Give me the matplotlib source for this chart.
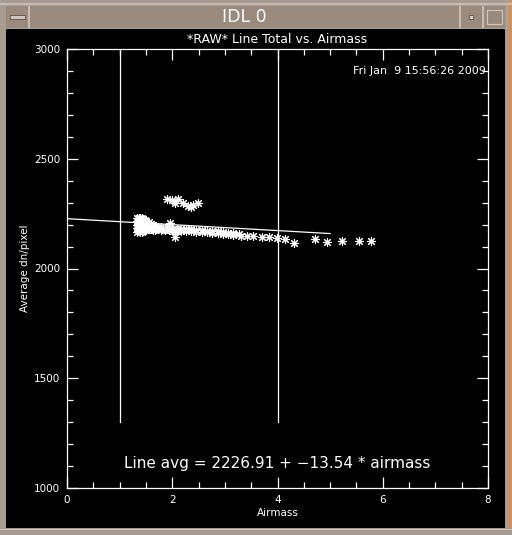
import matplotlib
matplotlib.use("Agg")
import matplotlib.pyplot as plt
from matplotlib.patches import Rectangle
import numpy as np

# ---------------- data ----------------
airmass = [1.33, 1.33, 1.33, 1.33, 1.33,
           1.36, 1.36, 1.36, 1.36, 1.36,
           1.39, 1.39, 1.39, 1.39, 1.39,
           1.42, 1.42, 1.42, 1.42, 1.42,
           1.45, 1.45, 1.45, 1.45,
           1.48, 1.48, 1.48, 1.48,
           1.51, 1.51, 1.51, 1.51,
           1.55, 1.55, 1.55,
           1.59, 1.59, 1.59,
           1.63, 1.63, 1.63,
           1.68, 1.68, 1.68,
           1.73, 1.73,
           1.79, 1.79,
           1.86, 1.86,
           1.93, 1.93,
           2.01, 2.01,
           2.09, 2.09,
           2.17, 2.17,
           2.26, 2.26,
           2.36, 2.36,
           2.46, 2.46,
           2.56, 2.56,
           2.66, 2.66,
           2.76, 2.76,
           2.86, 2.86,
           2.96, 2.96,
           3.06, 3.06,
           3.16, 3.16,
           3.26, 3.30, 3.42, 3.54, 3.70, 3.83,
           3.99, 4.15, 4.32, 4.72, 4.95, 5.23, 5.54, 5.77,
           1.96, 2.05,
           1.90, 2.00, 2.10, 2.05, 2.20, 2.30, 2.40, 2.48, 2.35]
line_total = [2230, 2215, 2200, 2185, 2168,
              2232, 2217, 2202, 2187, 2170,
              2230, 2214, 2199, 2184, 2168,
              2228, 2212, 2197, 2182, 2167,
              2224, 2208, 2193, 2178,
              2220, 2205, 2190, 2175,
              2216, 2202, 2188, 2174,
              2210, 2196, 2182,
              2204, 2191, 2178,
              2198, 2187, 2176,
              2194, 2184, 2175,
              2190, 2179,
              2188, 2177,
              2186, 2175,
              2184, 2174,
              2182, 2173,
              2181, 2172,
              2180, 2171,
              2179, 2170,
              2178, 2169,
              2177, 2168,
              2175, 2166,
              2173, 2165,
              2171, 2163,
              2169, 2162,
              2166, 2159,
              2163, 2156,
              2160, 2153,
              2155, 2150, 2147, 2146, 2145, 2144,
              2139, 2135, 2117, 2135, 2123, 2127, 2127, 2127,
              2206, 2142,
              2315, 2312, 2318, 2298, 2300, 2285, 2290, 2298, 2278]

fit_intercept = 2226.91
fit_slope = -13.54
fit_range = [0, 5]
vline_x = [1, 4]
vline_range = [1300, 3000]

xticks = [0, 2, 4, 6, 8]
yticks = [1000, 1500, 2000, 2500, 3000]

title = "*RAW* Line Total vs. Airmass"
date_text = "Fri Jan  9 15:56:26 2009"
fit_text = "Line avg = 2226.91 + \u221213.54 * airmass"

# ---------------- figure / window frame ----------------
W, H = 512, 535
fig = plt.figure(figsize=(W / 100, H / 100), dpi=100)
fig.patch.set_facecolor("#a79a91")

def rect(x0, y0, x1, y1, fc, ec="none", lw=0, z=-10):
    # pixel coords, y from top
    r = Rectangle((x0 / W, 1 - y1 / H), (x1 - x0) / W, (y1 - y0) / H,
                  transform=fig.transFigure, facecolor=fc, edgecolor=ec,
                  linewidth=lw, zorder=z)
    fig.patches.append(r)

rect(0, 0, 512, 535, "#a89b92")
rect(506, 0, 512, 535, "#b39d8f")
rect(509, 0, 511, 535, "#e8873a")
rect(6, 6, 505, 28, "#9a8a7e")
# separators in title bar
rect(28, 6, 30, 28, "#c8bcb4")
rect(459, 6, 461, 28, "#c8bcb4")
rect(482, 6, 484, 28, "#c8bcb4")
rect(0, 3, 512, 5, "#c8bcb4")
# left button bar
rect(10, 15, 25, 19, "#d0c6c0", ec="#5a4e46", lw=0.6)
# small square button
rect(469, 15, 473, 19, "#d8d0ca", ec="#4a3e36", lw=0.5)
# maximize square
rect(487, 10, 502, 24, "#9a8a7e", ec="#d0c6c0", lw=0.8)
fig.text(244 / W, 1 - 17.5 / H, "IDL 0", color="white", fontsize=12.5,
         ha="center", va="center", family="DejaVu Sans")
# black drawing area
rect(6, 29, 505, 528, "black")
rect(0, 528, 512, 535, "#a89b92")
rect(0, 529, 512, 530, "#d0c6c0")

# ---------------- axes ----------------
ax = fig.add_axes([67 / W, 1 - 488 / H, (488 - 67) / W, (488 - 49) / H])
ax.set_zorder(5)
ax.set_facecolor("black")
ax.set_xlim(0, 8)
ax.set_ylim(1000, 3000)
for s in ax.spines.values():
    s.set_color("white")
    s.set_linewidth(0.9)

ax.set_xticks(xticks)
ax.set_yticks(yticks)
ax.set_xticks(np.arange(0, 8.01, 0.5), minor=True)
ax.set_yticks(np.arange(1000, 3001, 100), minor=True)
ax.tick_params(which="both", direction="in", colors="white",
               top=True, right=True, labelsize=7.5, width=0.9)
ax.tick_params(which="major", length=8, pad=5)
ax.tick_params(which="minor", length=4)
for lab in ax.get_xticklabels() + ax.get_yticklabels():
    lab.set_color("white")

ax.set_xlabel("Airmass", color="white", fontsize=7.5, labelpad=2)
ax.set_ylabel("Average dn/pixel", color="white", fontsize=7.5, labelpad=3)
ax.set_title(title, color="white", fontsize=9, pad=4)

# vertical lines
for xv in vline_x:
    ax.plot([xv, xv], vline_range, color="white", lw=0.9)

# fit line
fx = np.array(fit_range, dtype=float)
ax.plot(fx, fit_intercept + fit_slope * fx, color="white", lw=0.9)

# data points (asterisks)
ax.plot(airmass, line_total, linestyle="none", marker=(8, 2, 0),
        markersize=6.5, markeredgecolor="white", markeredgewidth=0.8,
        color="white")

ax.text(0.995, 0.962, date_text, transform=ax.transAxes, color="white",
        fontsize=8, ha="right", va="top")
ax.text(0.5, 0.055, fit_text, transform=ax.transAxes, color="white",
        fontsize=11, ha="center", va="center")

fig.savefig("out.png", dpi=100, facecolor=fig.get_facecolor())
